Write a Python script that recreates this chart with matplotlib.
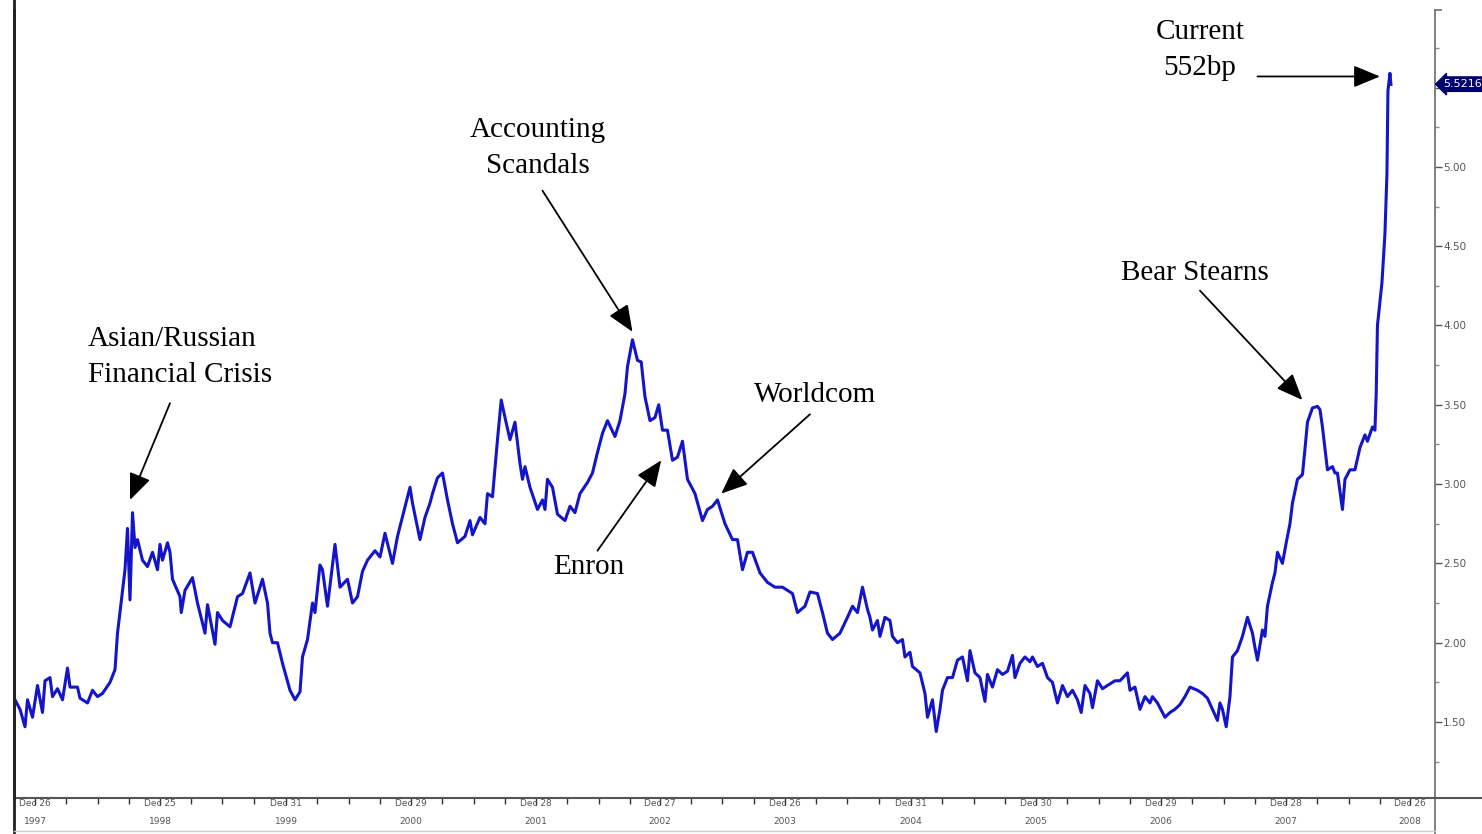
import matplotlib
matplotlib.use("Agg")
import matplotlib.pyplot as plt
from matplotlib.lines import Line2D
from matplotlib import transforms

# spread series (%)
years = [1997.82, 1997.86, 1997.90, 1997.92, 1997.96, 1998.00, 1998.04, 1998.06, 1998.10, 1998.12,
         1998.16, 1998.20, 1998.24, 1998.26, 1998.32, 1998.34, 1998.40, 1998.44, 1998.48, 1998.52,
         1998.58, 1998.62, 1998.64, 1998.68, 1998.70, 1998.72, 1998.74, 1998.76, 1998.78, 1998.80,
         1998.84, 1998.88, 1998.92, 1998.96, 1998.98, 1999.00, 1999.04, 1999.06, 1999.08, 1999.14,
         1999.15, 1999.18, 1999.24, 1999.28, 1999.34, 1999.36, 1999.42, 1999.44, 1999.48, 1999.54,
         1999.60, 1999.64, 1999.70, 1999.74, 1999.80, 1999.84, 1999.86, 1999.88, 1999.92, 1999.96,
         2000.02, 2000.06, 2000.10, 2000.12, 2000.16, 2000.20, 2000.22, 2000.26, 2000.28, 2000.32,
         2000.38, 2000.42, 2000.48, 2000.52, 2000.56, 2000.60, 2000.64, 2000.70, 2000.74, 2000.78,
         2000.84, 2000.88, 2000.96, 2000.98, 2001.00, 2001.06, 2001.10, 2001.14, 2001.16, 2001.20,
         2001.24, 2001.28, 2001.32, 2001.36, 2001.42, 2001.46, 2001.48, 2001.54, 2001.58, 2001.60,
         2001.64, 2001.68, 2001.71, 2001.74, 2001.78, 2001.82, 2001.86, 2001.88, 2001.90, 2001.94,
         2002.00, 2002.04, 2002.06, 2002.08, 2002.12, 2002.16, 2002.22, 2002.26, 2002.30, 2002.34,
         2002.40, 2002.44, 2002.48, 2002.52, 2002.56, 2002.62, 2002.66, 2002.70, 2002.72, 2002.76,
         2002.80, 2002.83, 2002.86, 2002.90, 2002.94, 2002.97, 2003.00, 2003.04, 2003.08, 2003.12,
         2003.16, 2003.20, 2003.26, 2003.32, 2003.36, 2003.40, 2003.44, 2003.50, 2003.56, 2003.60,
         2003.64, 2003.68, 2003.72, 2003.78, 2003.84, 2003.90, 2003.96, 2004.04, 2004.08, 2004.14,
         2004.18, 2004.24, 2004.28, 2004.32, 2004.36, 2004.42, 2004.48, 2004.52, 2004.56, 2004.60,
         2004.64, 2004.66, 2004.68, 2004.72, 2004.74, 2004.78, 2004.82, 2004.84, 2004.88, 2004.92,
         2004.94, 2004.98, 2005.00, 2005.06, 2005.10, 2005.12, 2005.16, 2005.19, 2005.22, 2005.24,
         2005.28, 2005.32, 2005.36, 2005.40, 2005.44, 2005.46, 2005.50, 2005.54, 2005.58, 2005.60,
         2005.64, 2005.68, 2005.72, 2005.76, 2005.80, 2005.82, 2005.86, 2005.90, 2005.94, 2005.96,
         2006.00, 2006.04, 2006.08, 2006.12, 2006.16, 2006.20, 2006.24, 2006.28, 2006.32, 2006.35,
         2006.38, 2006.42, 2006.44, 2006.48, 2006.52, 2006.56, 2006.62, 2006.66, 2006.72, 2006.74,
         2006.78, 2006.82, 2006.86, 2006.90, 2006.92, 2006.96, 2007.02, 2007.06, 2007.10, 2007.14,
         2007.18, 2007.22, 2007.28, 2007.32, 2007.36, 2007.40, 2007.44, 2007.46, 2007.48, 2007.51,
         2007.54, 2007.56, 2007.60, 2007.64, 2007.68, 2007.72, 2007.74, 2007.76, 2007.80, 2007.82,
         2007.84, 2007.88, 2007.90, 2007.92, 2007.96, 2007.99, 2008.02, 2008.04, 2008.08, 2008.12,
         2008.14, 2008.16, 2008.20, 2008.24, 2008.26, 2008.28, 2008.32, 2008.36, 2008.38, 2008.40,
         2008.44, 2008.46, 2008.50, 2008.54, 2008.58, 2008.62, 2008.64, 2008.68, 2008.70, 2008.71,
         2008.72, 2008.756, 2008.78, 2008.796, 2008.804, 2008.82, 2008.828]

spread = [1.64, 1.58, 1.47, 1.64, 1.53, 1.73, 1.56, 1.76, 1.78, 1.66,
          1.71, 1.64, 1.84, 1.72, 1.72, 1.65, 1.62, 1.70, 1.66, 1.68,
          1.75, 1.83, 2.06, 2.33, 2.46, 2.72, 2.27, 2.82, 2.60, 2.65,
          2.52, 2.48, 2.57, 2.46, 2.62, 2.52, 2.63, 2.57, 2.40, 2.29,
          2.19, 2.33, 2.41, 2.25, 2.06, 2.24, 1.99, 2.19, 2.14, 2.10,
          2.29, 2.31, 2.44, 2.25, 2.40, 2.25, 2.06, 2.00, 2.00, 1.87,
          1.70, 1.64, 1.69, 1.91, 2.02, 2.25, 2.19, 2.49, 2.46, 2.23,
          2.62, 2.35, 2.40, 2.25, 2.29, 2.45, 2.52, 2.58, 2.54, 2.69,
          2.50, 2.67, 2.92, 2.98, 2.88, 2.65, 2.79, 2.88, 2.94, 3.04,
          3.07, 2.90, 2.75, 2.63, 2.67, 2.77, 2.68, 2.79, 2.75, 2.94,
          2.92, 3.28, 3.53, 3.42, 3.28, 3.39, 3.13, 3.03, 3.11, 2.98,
          2.84, 2.90, 2.84, 3.03, 2.98, 2.81, 2.77, 2.86, 2.82, 2.94,
          3.01, 3.07, 3.20, 3.32, 3.40, 3.30, 3.40, 3.57, 3.74, 3.91,
          3.78, 3.77, 3.55, 3.40, 3.42, 3.50, 3.34, 3.34, 3.15, 3.17,
          3.27, 3.03, 2.94, 2.77, 2.84, 2.86, 2.90, 2.75, 2.65, 2.65,
          2.46, 2.57, 2.57, 2.44, 2.38, 2.35, 2.35, 2.31, 2.19, 2.23,
          2.32, 2.31, 2.19, 2.06, 2.02, 2.06, 2.16, 2.23, 2.19, 2.35,
          2.21, 2.16, 2.08, 2.14, 2.04, 2.16, 2.14, 2.04, 2.00, 2.02,
          1.91, 1.94, 1.85, 1.81, 1.68, 1.53, 1.64, 1.44, 1.58, 1.70,
          1.78, 1.78, 1.89, 1.91, 1.76, 1.95, 1.81, 1.78, 1.63, 1.80,
          1.72, 1.83, 1.80, 1.82, 1.92, 1.78, 1.87, 1.91, 1.88, 1.91,
          1.85, 1.87, 1.78, 1.75, 1.62, 1.73, 1.66, 1.70, 1.64, 1.56,
          1.73, 1.68, 1.59, 1.76, 1.71, 1.73, 1.76, 1.76, 1.81, 1.70,
          1.72, 1.58, 1.66, 1.62, 1.66, 1.62, 1.53, 1.56, 1.58, 1.61,
          1.66, 1.72, 1.70, 1.68, 1.65, 1.58, 1.51, 1.62, 1.58, 1.47,
          1.66, 1.91, 1.95, 2.04, 2.16, 2.06, 1.97, 1.89, 2.08, 2.04,
          2.23, 2.38, 2.44, 2.57, 2.50, 2.63, 2.75, 2.88, 3.03, 3.06,
          3.22, 3.39, 3.48, 3.49, 3.47, 3.36, 3.09, 3.11, 3.07, 3.07,
          2.84, 3.03, 3.09, 3.09, 3.23, 3.31, 3.27, 3.36, 3.34, 3.57,
          4.00, 4.27, 4.58, 4.96, 5.48, 5.59, 5.52]

last_value = 5.5216

tick_years = [1997.98, 1998.98, 1999.99, 2000.99, 2001.99, 2002.98,
              2003.98, 2004.99, 2005.99, 2006.99, 2007.99, 2008.98]
tick_labels = ["Dec 26\n1997", "Dec 25\n1998", "Dec 31\n1999", "Dec 29\n2000",
               "Dec 28\n2001", "Dec 27\n2002", "Dec 26\n2003", "Dec 31\n2004",
               "Dec 30\n2005", "Dec 29\n2006", "Dec 28\n2007", "Dec 26\n2008"]

# annotations: text, text position, alignment, arrow tail, arrow tip
notes = [
    ("Asian/Russian\nFinancial Crisis", (1998.40, 3.80), "left", (1999.06, 3.51), (1998.74, 2.90)),
    ("Accounting\nScandals", (2002.00, 5.12), "center", (2002.04, 4.85), (2002.76, 3.96)),
    ("Enron", (2002.41, 2.48), "center", (2002.48, 2.58), (2002.99, 3.15)),
    ("Worldcom", (2004.22, 3.56), "center", (2004.18, 3.44), (2003.47, 2.94)),
    ("Bear Stearns", (2007.26, 4.33), "center", (2007.30, 4.22), (2008.12, 3.53)),
    ("Current\n552bp", (2007.30, 5.74), "center", (2007.76, 5.57), (2008.74, 5.57)),
]

fig = plt.figure(figsize=(14.82, 8.34), dpi=100)
ax = fig.add_axes([0.00945, 0.0432, 0.9588, 0.9448])

ax.plot(years, spread, color="#1414c8", lw=2.2, solid_joinstyle="round")

ax.set_xlim(1997.812, 2009.18)
ax.set_ylim(1.021, 5.989)

ax.spines["top"].set_visible(False)
ax.spines["left"].set_color("#222222")
ax.spines["left"].set_linewidth(2)
ax.spines["right"].set_color("#777777")
ax.spines["right"].set_linewidth(1.3)
ax.spines["bottom"].set_color("#555555")
ax.spines["bottom"].set_linewidth(1.5)

# y axis on the right
ax.yaxis.tick_right()
ax.set_yticks([1.5, 2.0, 2.5, 3.0, 3.5, 4.0, 4.5, 5.0, 5.5])
ax.set_yticklabels(["1.50", "2.00", "2.50", "3.00", "3.50", "4.00", "4.50", "5.00", ""])
ax.set_yticks([1.25, 1.75, 2.25, 2.75, 3.25, 3.75, 4.25, 4.75, 5.25, 5.75], minor=True)
ax.tick_params(axis="y", which="major", length=5, width=1, color="#555555",
               labelsize=7.5, labelcolor="#555555", pad=1)
ax.tick_params(axis="y", which="minor", length=3, width=1, color="#888888")

# x axis
ax.set_xticks(tick_years)
ax.set_xticklabels(tick_labels, linespacing=2.3)
ax.set_xticks([p + q for p in tick_years for q in (0.25, 0.5, 0.75) if p + q < 2009.18], minor=True)
ax.tick_params(axis="x", which="major", length=5, width=1, color="#333333",
               labelsize=6.5, labelcolor="#555555", pad=-4)
ax.tick_params(axis="x", which="minor", length=4, width=1, color="#333333")

# last value tag
trans = transforms.blended_transform_factory(ax.transAxes, ax.transData)
ax.text(1.006, last_value, "5.5216", transform=trans, fontsize=8, color="white",
        va="center", ha="left", clip_on=False,
        bbox=dict(boxstyle="larrow,pad=0.2", fc="#00006e", ec="#00006e"))

for text, pos, ha, tail, tip in notes:
    ax.text(pos[0], pos[1], text, ha=ha, va="center", fontsize=21,
            family="Liberation Serif", linespacing=1.5)
    ax.annotate("", xy=tip, xytext=tail,
                arrowprops=dict(arrowstyle="-|>,head_length=0.65,head_width=0.27",
                                mutation_scale=25, lw=1.3, color="black",
                                shrinkA=0, shrinkB=0))

# frame lines running past the plot area
x0, x1, yb = 0.00945, 0.9683, 0.0432
fig.add_artist(Line2D([x0, x0], [0, 1], transform=fig.transFigure, color="#222222", lw=2))
fig.add_artist(Line2D([x1, x1], [0, yb], transform=fig.transFigure, color="#777777", lw=1.3))
fig.add_artist(Line2D([x1, 1.0], [yb, yb], transform=fig.transFigure, color="#555555", lw=1.5))
fig.add_artist(Line2D([x0, x1], [0.003, 0.003], transform=fig.transFigure, color="#cccccc", lw=1))
fig.add_artist(Line2D([x1, x1 + 0.004], [0.988, 0.988], transform=fig.transFigure, color="#777777", lw=1.3))

fig.savefig("out.png", dpi=100)
